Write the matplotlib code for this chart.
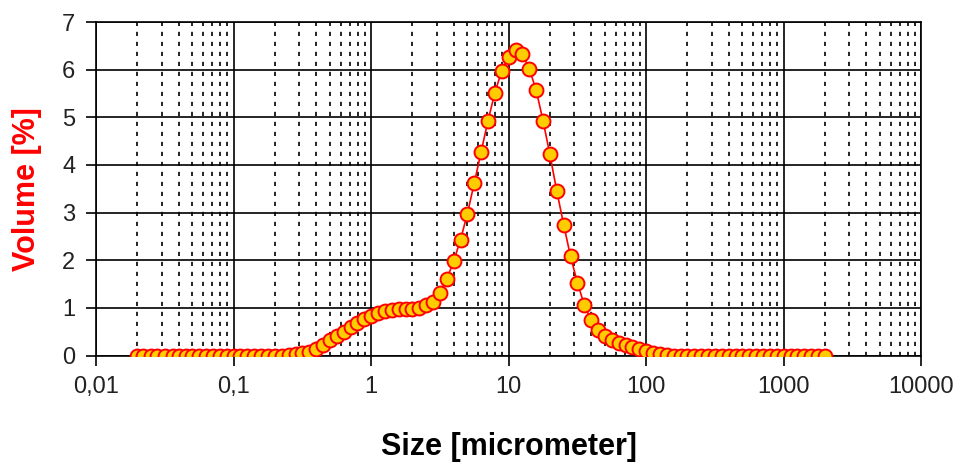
import matplotlib
matplotlib.use('Agg')
import matplotlib.pyplot as plt
from matplotlib.ticker import FixedLocator, LogLocator, NullFormatter

# size classes (micrometer) and volume fraction in each class
size_um = [
    0.020, 0.022, 0.025, 0.028, 0.032, 0.036, 0.040, 0.045, 0.050, 0.056,
    0.063, 0.071, 0.080, 0.089, 0.100, 0.112, 0.126, 0.142, 0.159, 0.178,
    0.200, 0.224, 0.252, 0.283, 0.317, 0.356, 0.399, 0.448, 0.502, 0.564,
    0.632, 0.710, 0.796, 0.893, 1.002, 1.125, 1.262, 1.416, 1.589, 1.783,
    2.000, 2.244, 2.518, 2.825, 3.170, 3.557, 3.991, 4.477, 5.024, 5.637,
    6.325, 7.096, 7.962, 8.934, 10.024, 11.247, 12.619, 14.159, 15.887, 17.825,
    20.000, 22.440, 25.179, 28.251, 31.698, 35.566, 39.905, 44.774, 50.238, 56.368,
    63.246, 70.963, 79.621, 89.337, 100.237, 112.468, 126.191, 141.589, 158.866, 178.250,
    200.000, 224.404, 251.785, 282.508, 316.979, 355.656, 399.052, 447.744, 502.377, 563.677,
    632.456, 709.627, 796.214, 893.367, 1002.374, 1124.683, 1261.915, 1415.892, 1588.656, 1782.502,
    2000.000,
]
volume_pct = [
    0.00, 0.00, 0.00, 0.00, 0.00, 0.00, 0.00, 0.00, 0.00, 0.00,
    0.00, 0.00, 0.00, 0.00, 0.00, 0.00, 0.00, 0.00, 0.00, 0.00,
    0.00, 0.00, 0.01, 0.03, 0.05, 0.08, 0.13, 0.23, 0.32, 0.41,
    0.50, 0.59, 0.68, 0.76, 0.83, 0.89, 0.93, 0.96, 0.97, 0.97,
    0.97, 0.99, 1.05, 1.13, 1.32, 1.60, 1.98, 2.43, 2.98, 3.62,
    4.28, 4.93, 5.52, 5.98, 6.27, 6.42, 6.33, 6.02, 5.57, 4.93,
    4.22, 3.45, 2.75, 2.08, 1.53, 1.06, 0.74, 0.53, 0.40, 0.33,
    0.27, 0.22, 0.18, 0.14, 0.10, 0.06, 0.03, 0.01, 0.00, 0.00,
    0.00, 0.00, 0.00, 0.00, 0.00, 0.00, 0.00, 0.00, 0.00, 0.00,
    0.00, 0.00, 0.00, 0.00, 0.00, 0.00, 0.00, 0.00, 0.00, 0.00,
    0.00,
]

x_ticks = [0.01, 0.1, 1, 10, 100, 1000, 10000]
x_tick_labels = ['0,01', '0,1', '1', '10', '100', '1000', '10000']
y_ticks = [0, 1, 2, 3, 4, 5, 6, 7]

plt.rcParams['font.family'] = ['Liberation Sans', 'DejaVu Sans']

fig = plt.figure(figsize=(9.62, 4.69), dpi=100)
ax = fig.add_axes([0.0998, 0.242, 0.8576, 0.711])

ax.plot(size_um, volume_pct, color='red', lw=1.2, marker='o', ms=10,
        mfc='#FFCC00', mec='red', mew=1.4, zorder=3)

ax.set_xscale('log')
ax.set_xlim(0.01, 10000)
ax.set_ylim(0, 7)

ax.xaxis.set_major_locator(FixedLocator(x_ticks))
ax.set_xticklabels(x_tick_labels)
ax.xaxis.set_minor_locator(LogLocator(base=10, subs=range(2, 10), numticks=20))
ax.xaxis.set_minor_formatter(NullFormatter())
ax.set_yticks(y_ticks)

ax.tick_params(which='major', direction='out', length=7, width=1.2,
               labelsize=17, color='black', labelcolor='#222222', pad=8)
ax.tick_params(which='minor', length=0)

# solid major grid, dashed minor grid on the log axis
ax.grid(which='major', color='black', lw=1.2, ls='-', zorder=1)
ax.grid(which='minor', axis='x', color='black', lw=1.2, ls=(0, (2.5, 3.5)), zorder=1)
ax.set_axisbelow(True)

for sp in ax.spines.values():
    sp.set_linewidth(1.2)
    sp.set_color('black')

ax.set_xlabel('Size [micrometer]', fontsize=22, fontweight='bold', labelpad=24)
ax.set_ylabel('Volume [%]', fontsize=22, fontweight='bold', color='red', labelpad=14)

fig.savefig('out.png', dpi=100)
